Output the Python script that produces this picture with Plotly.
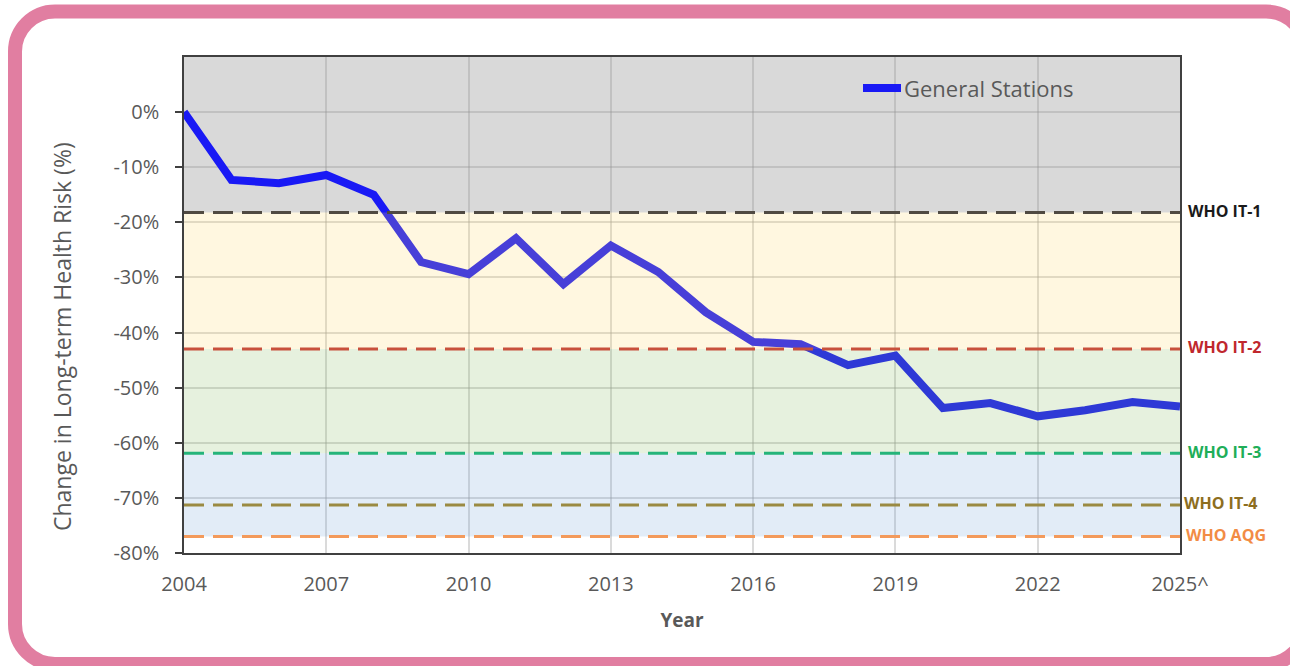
import plotly.graph_objects as go

# data
years = list(range(2004, 2026))
risk_change = [0.0, -12.3, -12.9, -11.4, -15.0, -27.2, -29.4, -22.9, -31.2, -24.2,
               -29.0, -36.3, -41.7, -42.1, -45.9, -44.2, -53.7, -52.8, -55.2, -54.1,
               -52.6, -53.4]
series_name = 'General Stations'

tick_years = [2004, 2007, 2010, 2013, 2016, 2019, 2022, 2025]
tick_year_labels = ['2004', '2007', '2010', '2013', '2016', '2019', '2022', '2025^']
tick_pct = [0, -10, -20, -30, -40, -50, -60, -70, -80]
tick_pct_labels = ['0%', '-10%', '-20%', '-30%', '-40%', '-50%', '-60%', '-70%', '-80%']

who_names = ['WHO IT-1', 'WHO IT-2', 'WHO IT-3', 'WHO IT-4', 'WHO AQG']
who_levels = [-18.2, -43.0, -61.9, -71.3, -77.0]

# styles
line_colors = ['#504a42', '#c8503c', '#25b47a', '#9a8a42', '#f39a5b']
label_colors = ['#1a1a1a', '#c0272d', '#20ae58', '#8d6e1e', '#f28c45']
band_colors = ['rgba(255,215,100,0.2)', 'rgba(130,185,90,0.2)', 'rgba(110,160,215,0.2)']
BLUE = 'rgb(25,25,245)'
FONT = 'Open Sans'
GREY = '#595959'

W, H = 1290, 666
L, T, PW, PH = 184, 57, 996, 496


def px(x):
    return (x - L) / PW


def py(y):
    return (T + PH - y) / PH


fig = go.Figure()

fig.add_trace(go.Scatter(
    x=years, y=risk_change,
    mode='lines',
    name=series_name,
    line=dict(color=BLUE, width=8),
    showlegend=False
))

shapes = []

# grey zone above IT-1
shapes.append(dict(type='rect', xref='paper', yref='y', x0=0, x1=1,
                   y0=who_levels[0], y1=10, fillcolor='#d9d9d9',
                   line=dict(width=0), layer='below'))

# tinted zones between guideline levels
for i, col in enumerate(band_colors):
    top = who_levels[i]
    bottom = who_levels[i + 1] if i < 2 else who_levels[4]
    shapes.append(dict(type='rect', xref='paper', yref='y', x0=0, x1=1,
                       y0=bottom, y1=top, fillcolor=col,
                       line=dict(width=0), layer='above'))

# dashed WHO lines
for lvl, col in zip(who_levels, line_colors):
    shapes.append(dict(type='line', xref='paper', yref='y', x0=0, x1=1,
                       y0=lvl, y1=lvl, layer='above',
                       line=dict(color=col, width=3, dash='20px,9px')))

# legend sample
shapes.append(dict(type='line', xref='paper', yref='paper',
                   x0=px(863), x1=px(901), y0=py(88), y1=py(88),
                   line=dict(color=BLUE, width=8), layer='above'))

# pink rounded frame
x0, y0, x1, y1, r = 15, 11.5, 1306, 664, 40
k = 0.552 * r
frame = (
    f'M {px(x0 + r)},{py(y0)} L {px(x1 - r)},{py(y0)} '
    f'C {px(x1 - r + k)},{py(y0)} {px(x1)},{py(y0 + r - k)} {px(x1)},{py(y0 + r)} '
    f'L {px(x1)},{py(y1 - r)} '
    f'C {px(x1)},{py(y1 - r + k)} {px(x1 - r + k)},{py(y1)} {px(x1 - r)},{py(y1)} '
    f'L {px(x0 + r)},{py(y1)} '
    f'C {px(x0 + r - k)},{py(y1)} {px(x0)},{py(y1 - r + k)} {px(x0)},{py(y1 - r)} '
    f'L {px(x0)},{py(y0 + r)} '
    f'C {px(x0)},{py(y0 + r - k)} {px(x0 + r - k)},{py(y0)} {px(x0 + r)},{py(y0)} Z'
)
shapes.append(dict(type='path', xref='paper', yref='paper', path=frame,
                   line=dict(color='#e17ea1', width=14), layer='below'))

annotations = []
label_x = [1186, 1186, 1186, 1182, 1184]
for name, lvl, col, lx in zip(who_names, who_levels, label_colors, label_x):
    annotations.append(dict(text=f'<b>{name}</b>', xref='paper', yref='y',
                            x=px(lx), y=lvl + 0.3, xanchor='left', yanchor='middle',
                            showarrow=False, font=dict(family=FONT, size=16, color=col)))

annotations.append(dict(text=series_name, xref='paper', yref='paper',
                        x=px(902), y=py(88), xanchor='left', yanchor='middle',
                        showarrow=False, font=dict(family=FONT, size=22, color=GREY)))

annotations.append(dict(text='Change in Long-term Health Risk (%)', xref='paper', yref='paper',
                        x=px(62), y=py(337), xanchor='center', yanchor='middle',
                        textangle=-90, showarrow=False,
                        font=dict(family=FONT, size=23, color=GREY)))

fig.update_layout(
    width=W, height=H, autosize=False,
    margin=dict(l=L, r=W - L - PW, t=T, b=H - T - PH, pad=0),
    paper_bgcolor='white',
    plot_bgcolor='white',
    shapes=shapes,
    annotations=annotations,
    font=dict(family=FONT, color=GREY),
    xaxis=dict(
        range=[2004, 2025],
        tickvals=tick_years, ticktext=tick_year_labels,
        tickfont=dict(size=20, color=GREY),
        ticks='', ticklabelstandoff=12,
        showgrid=True, gridcolor='rgba(150,150,150,0.35)', gridwidth=1.5,
        showline=True, linecolor='#404040', linewidth=1.5, mirror=True,
        zeroline=False,
        title=dict(text='<b>Year</b>', font=dict(size=19, color=GREY), standoff=18)
    ),
    yaxis=dict(
        range=[-80, 10],
        tickvals=tick_pct, ticktext=tick_pct_labels,
        tickfont=dict(size=20, color=GREY),
        ticks='outside', ticklen=7, tickcolor='#404040', tickwidth=1.5,
        ticklabelstandoff=12,
        showgrid=True, gridcolor='rgba(150,150,150,0.35)', gridwidth=1.5,
        showline=True, linecolor='#404040', linewidth=1.5, mirror=True,
        zeroline=False
    )
)

fig.write_html('out.html', config={'displayModeBar': False},
               post_script="document.body.style.margin='0';")
